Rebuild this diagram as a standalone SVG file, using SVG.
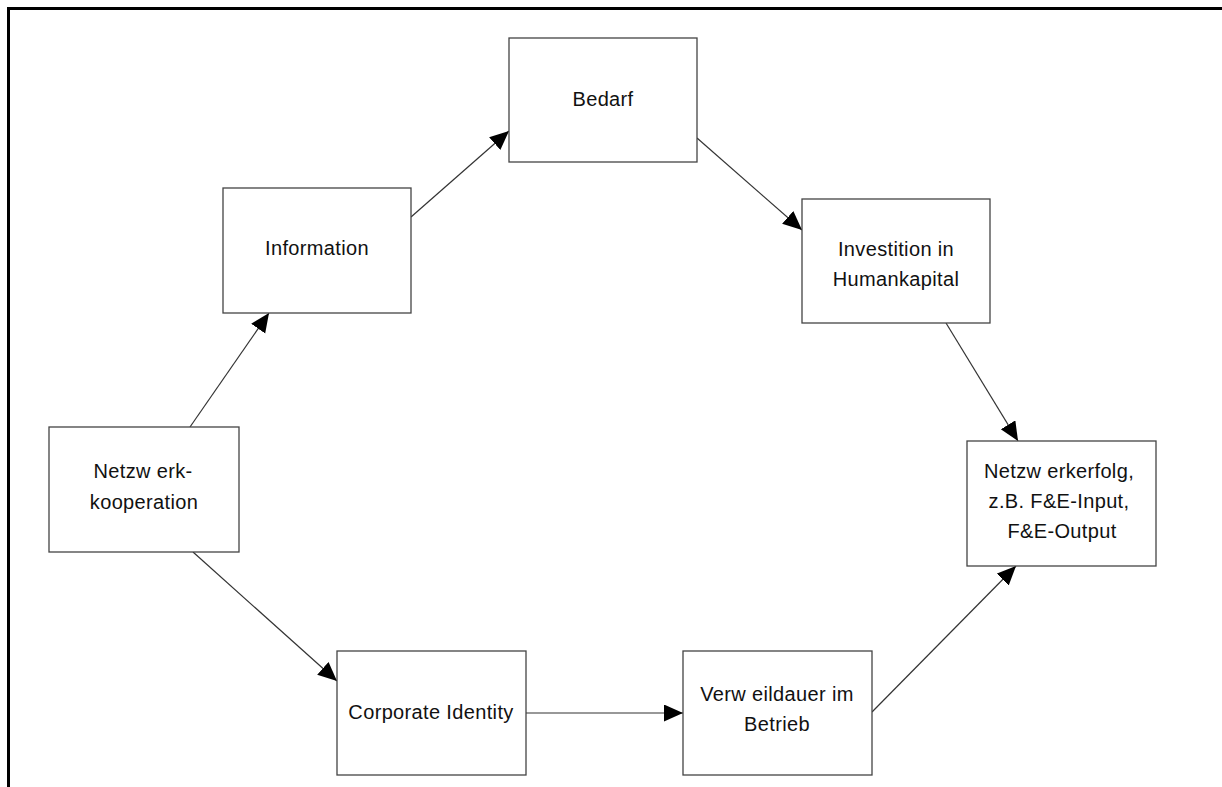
<svg xmlns="http://www.w3.org/2000/svg" width="1222" height="787" viewBox="0 0 1222 787">
<style>
.box{fill:#fff;stroke:#444;stroke-width:1.3}
.lbl{font-family:"Liberation Sans",Arial,sans-serif;font-size:20px;letter-spacing:0.35px;fill:#111;text-anchor:middle}
.con{fill:none;stroke:#333;stroke-width:1.2}
.frame{fill:none;stroke:#000;stroke-width:3}
</style>
<defs>
<marker id="arr" markerUnits="userSpaceOnUse" markerWidth="20" markerHeight="18" refX="19" refY="8.5" orient="auto">
<path d="M0,0 L19,8.5 L0,17 z" fill="#000"/>
</marker>
</defs>
<rect width="1222" height="787" fill="#fff"/>
<path class="frame" d="M8.5,787 V8.5 H1222"/>
<g id="connectors">
<line class="con" x1="190" y1="427" x2="269" y2="313" marker-end="url(#arr)"/>
<line class="con" x1="411" y1="217" x2="509" y2="131" marker-end="url(#arr)"/>
<line class="con" x1="697" y1="138" x2="802" y2="230" marker-end="url(#arr)"/>
<line class="con" x1="946" y1="323" x2="1018" y2="441" marker-end="url(#arr)"/>
<line class="con" x1="872" y1="712" x2="1016" y2="566" marker-end="url(#arr)"/>
<line class="con" x1="193" y1="552" x2="337" y2="681" marker-end="url(#arr)"/>
<line class="con" x1="526" y1="713" x2="683" y2="713" marker-end="url(#arr)"/>
</g>
<g id="bedarf">
<rect class="box" x="509" y="38" width="188" height="124"/>
<text class="lbl" x="603" y="106">Bedarf</text>
</g>
<g id="information">
<rect class="box" x="223" y="188" width="188" height="125"/>
<text class="lbl" x="317" y="255">Information</text>
</g>
<g id="investition">
<rect class="box" x="802" y="199" width="188" height="124"/>
<text class="lbl" x="896" y="256">Investition in</text>
<text class="lbl" x="896" y="286">Humankapital</text>
</g>
<g id="netzwerkkooperation">
<rect class="box" x="49" y="427" width="190" height="125"/>
<text class="lbl" x="143" y="478">Netzw erk-</text>
<text class="lbl" x="144" y="509">kooperation</text>
</g>
<g id="netzwerkerfolg">
<rect class="box" x="967" y="441" width="189" height="125"/>
<text class="lbl" x="1059" y="478">Netzw erkerfolg,</text>
<text class="lbl" x="1059" y="508">z.B. F&amp;E-Input,</text>
<text class="lbl" x="1062" y="538">F&amp;E-Output</text>
</g>
<g id="corporate">
<rect class="box" x="337" y="651" width="189" height="124"/>
<text class="lbl" x="431" y="719">Corporate Identity</text>
</g>
<g id="verweildauer">
<rect class="box" x="683" y="651" width="189" height="124"/>
<text class="lbl" x="777" y="701">Verw eildauer im</text>
<text class="lbl" x="777" y="731">Betrieb</text>
</g>
</svg>
